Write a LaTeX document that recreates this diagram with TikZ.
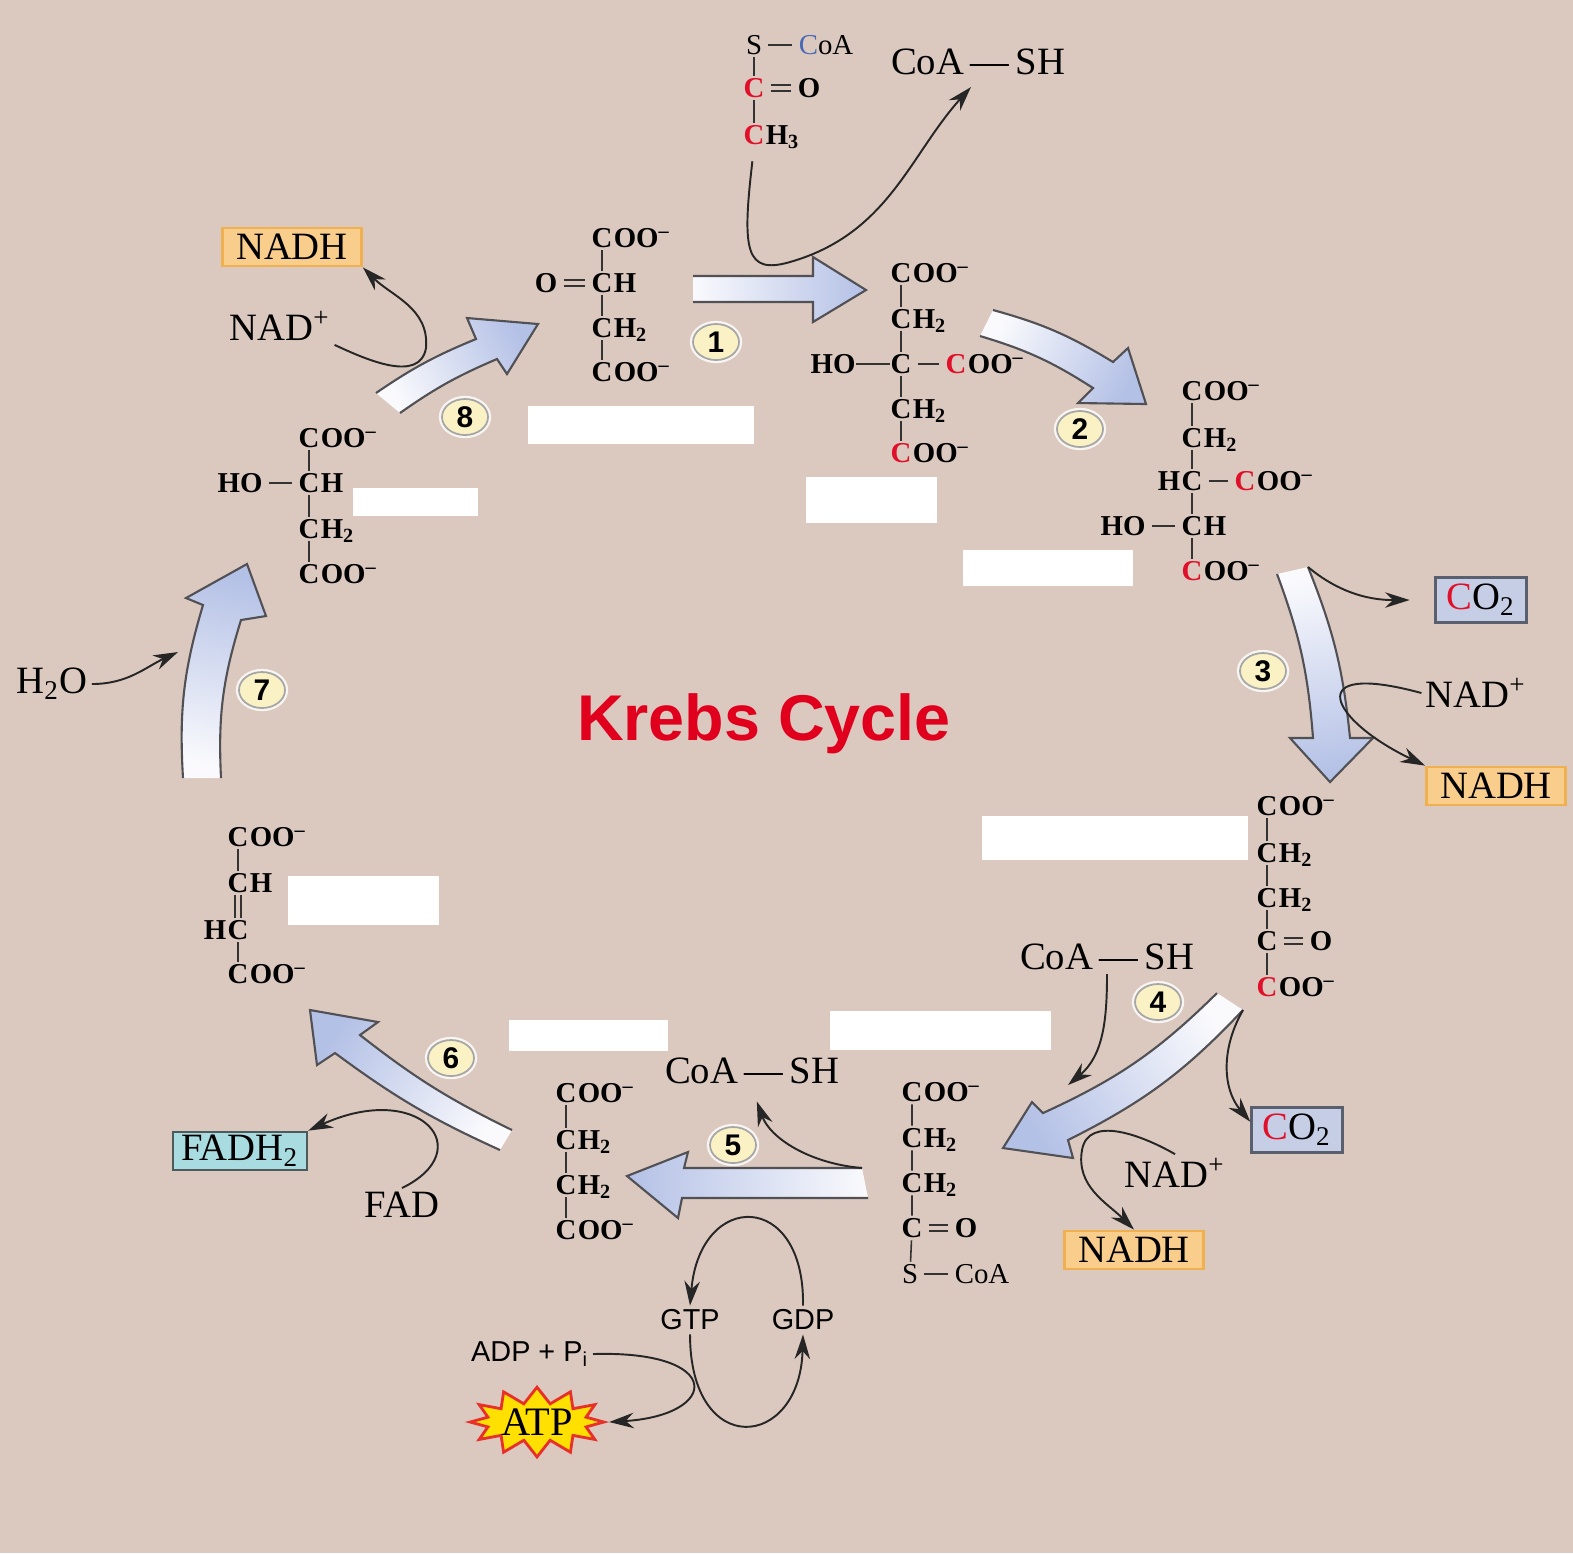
\documentclass[tikz,border=0pt]{standalone}
\usepackage{fontspec}
\setmainfont{Liberation Serif}
\setsansfont{Liberation Sans}
\usetikzlibrary{arrows.meta,shapes.geometric,shapes.symbols}

\definecolor{bgtan}{HTML}{DBC9BF}
\definecolor{arrowblue}{HTML}{B4C1E6}
\definecolor{arrowwhite}{HTML}{FAFAFD}
\definecolor{arrowedge}{HTML}{505055}
\definecolor{nadhfill}{HTML}{F9CD8C}
\definecolor{nadhedge}{HTML}{F0B050}
\definecolor{cotwofill}{HTML}{C6CEE6}
\definecolor{cotwoedge}{HTML}{5A5F6E}
\definecolor{fadfill}{HTML}{A8DCE1}
\definecolor{fadedge}{HTML}{4C5C5E}
\definecolor{numfill}{HTML}{FAF2C4}
\definecolor{carbred}{HTML}{E0102A}
\definecolor{coablue}{HTML}{4A6AB8}
\definecolor{krebsred}{HTML}{E0001E}
\definecolor{atpyellow}{HTML}{FFE000}
\definecolor{atpred}{HTML}{E8302A}

\newcommand\chemsize{\fontsize{8.2}{9.5}\selectfont}
% fat cycle arrow: shading angle, outline path
\newcommand\cyclearrow[2]{%
  \shade[top color=arrowblue, bottom color=arrowwhite, shading angle=#1] #2 -- cycle;
  \draw[arrowedge, line width=0.6pt] #2;}

\tikzset{
  atom/.style={font=\chemsize\bfseries, inner xsep=0pt, inner ysep=0.5pt,
    text height=5.6pt, text depth=0pt},
  atomlight/.style={atom, font=\chemsize},
  rest/.style={atom},
  coo/.style={label distance=-0.3pt, label={[rest]east:OO\textsuperscript{–}}},
  chtwo/.style={label distance=-0.3pt, label={[rest]east:H\textsubscript{2}}},
  chone/.style={label distance=-0.3pt, label={[rest]east:H}},
  hcone/.style={label distance=-0.3pt, label={[rest]west:H}},
  bond/.style={draw=black!80, line width=0.45pt},
  hbond/.style={bond, shorten <=1.6pt, shorten >=1.6pt},
  dbond/.style={hbond, double=bgtan, double distance=1.2pt},
  vdbond/.style={bond, double=bgtan, double distance=1.2pt},
  link/.style={draw=black!85, line width=0.55pt, -{Stealth[length=7pt,width=4.4pt]}},
  cofactor/.style={font=\fontsize{11}{13}\selectfont, inner sep=1pt},
  nadhbox/.style={cofactor, draw=nadhedge, fill=nadhfill, line width=0.8pt,
    minimum width=1.39cm, minimum height=0.38cm},
  cotwobox/.style={cofactor, draw=cotwoedge, fill=cotwofill, line width=0.7pt,
    minimum width=0.91cm, minimum height=0.45cm},
  fadbox/.style={cofactor, draw=fadedge, fill=fadfill, line width=0.7pt,
    minimum width=1.34cm, minimum height=0.37cm},
  stepnum/.style={ellipse, draw=black!35, fill=numfill, line width=0.5pt,
    preaction={draw=white!80!bgtan, line width=1.8pt},
    minimum width=0.46cm, minimum height=0.36cm, inner sep=0pt,
    font=\sffamily\bfseries\fontsize{8.5}{8.5}\selectfont},
  nucleo/.style={font=\sffamily\fontsize{8.2}{10}\selectfont, inner sep=1pt},
  atpburst/.style={starburst, starburst points=12, starburst point height=0.16cm,
    random starburst=0, fill=atpyellow, draw=atpred, line width=0.8pt,
    minimum width=1.25cm, minimum height=0.52cm, inner sep=0pt,
    font=\fontsize{11.5}{12}\selectfont},
  krebstitle/.style={font=\sffamily\bfseries\fontsize{18.4}{20}\selectfont, text=krebsred}
}

\begin{document}
\begin{tikzpicture}[x=0.1mm, y=-0.1mm]
  \useasboundingbox (0,0) rectangle (1573,1553);
  \fill[bgtan] (0,0) rectangle (1573,1553);

  % blank name boxes
  \fill[white] (528,406) rectangle (754,444);
  \fill[white] (806,477) rectangle (937,523);
  \fill[white] (963,550) rectangle (1133,586);
  \fill[white] (982,816) rectangle (1248,860);
  \fill[white] (830,1011) rectangle (1051,1050);
  \fill[white] (509,1020) rectangle (668,1051);
  \fill[white] (288,876) rectangle (439,925);
  \fill[white] (353,488) rectangle (478,516);

  % cycle arrows
  \cyclearrow{-90}{(693,276) -- (813,276) -- (813,257) -- (866,290) -- (813,322) -- (813,302) -- (693,302)}
  \cyclearrow{-117}{(993,310) to[bend left=8] (1113,362) -- (1128,348) -- (1146,404) -- (1078,403) -- (1093,388) to[bend right=8] (980,336)}
  \cyclearrow{-170}{(1277,574) to[bend left=8] (1313,738) -- (1290,738) -- (1330,782) -- (1373,738) -- (1350,738) to[bend right=8] (1308,567)}
  \cyclearrow{123}{(1217,993) to[bend left=10] (1043,1113) -- (1032,1102) -- (1003,1148) -- (1073,1158) -- (1068,1140) to[bend right=10] (1243,1010)}
  \cyclearrow{90}{(862,1168) -- (684,1168) -- (688,1152) -- (627,1176) -- (678,1218) -- (682,1198) -- (868,1198)}
  \cyclearrow{56}{(512,1130) to[bend left=6] (360,1035) -- (378,1022) -- (310,1010) -- (317,1065) -- (335,1053) to[bend right=6] (500,1150)}
  \cyclearrow{-12}{(183,778) to[bend left=10] (203,605) -- (186,598) -- (247,564) -- (266,616) -- (241,620) to[bend right=10] (221,778)}
  \cyclearrow{-62}{(376,393) to[bend left=6] (476,339) -- (467,318) -- (538,324) -- (507,374) -- (497,359) to[bend right=6] (400,413)}

  % acetyl-CoA
  \node[atomlight] (ac1) at (754,45) {S};
  \node[atomlight] (accoa) at (826,45) {\textcolor{coablue}{C}oA};
  \node[atom] (ac2) at (754,88) {\textcolor{carbred}{C}};
  \node[atom] (aco) at (809,88) {O};
  \node[atom, label distance=-0.3pt, label={[rest]east:H\textsubscript{3}}] (ac3) at (754,135) {\textcolor{carbred}{C}};
  \draw[bond] (ac1) -- (ac2) -- (ac3);
  \draw[hbond] (ac1) -- (accoa);
  \draw[dbond] (ac2) -- (aco);

  % oxaloacetate
  \node[atom, coo] (oa1) at (602,238) {C};
  \node[atom, chone] (oa2) at (602,283) {C};
  \node[atom] (oao) at (546,283) {O};
  \node[atom, chtwo] (oa3) at (602,328) {C};
  \node[atom, coo] (oa4) at (602,372) {C};
  \draw[bond] (oa1) -- (oa2) -- (oa3) -- (oa4);
  \draw[dbond] (oao) -- (oa2);

  % citrate
  \node[atom, coo] (ci1) at (901,273) {C};
  \node[atom, chtwo] (ci2) at (901,319) {C};
  \node[atom] (ci3) at (901,364) {C};
  \node[atom] (ciho) at (833,364) {HO};
  \node[atom, coo] (cir) at (956,364) {\textcolor{carbred}{C}};
  \node[atom, chtwo] (ci4) at (901,409) {C};
  \node[atom, coo] (ci5) at (901,453) {\textcolor{carbred}{C}};
  \draw[bond] (ci1) -- (ci2) -- (ci3) -- (ci4) -- (ci5);
  \draw[hbond] (ciho) -- (ci3) -- (cir);

  % isocitrate
  \node[atom, coo] (ic1) at (1192,391) {C};
  \node[atom, chtwo] (ic2) at (1192,438) {C};
  \node[atom, hcone] (ic3) at (1192,481) {C};
  \node[atom, coo] (icr) at (1245,481) {\textcolor{carbred}{C}};
  \node[atom, chone] (ic4) at (1192,526) {C};
  \node[atom] (icho) at (1123,526) {HO};
  \node[atom, coo] (ic5) at (1192,571) {\textcolor{carbred}{C}};
  \draw[bond] (ic1) -- (ic2) -- (ic3) -- (ic4) -- (ic5);
  \draw[hbond] (ic3) -- (icr);
  \draw[hbond] (icho) -- (ic4);

  % alpha-ketoglutarate
  \node[atom, coo] (kg1) at (1267,806) {C};
  \node[atom, chtwo] (kg2) at (1267,853) {C};
  \node[atom, chtwo] (kg3) at (1267,898) {C};
  \node[atom] (kg4) at (1267,941) {C};
  \node[atom] (kgo) at (1321,941) {O};
  \node[atom, coo] (kg5) at (1267,987) {\textcolor{carbred}{C}};
  \draw[bond] (kg1) -- (kg2) -- (kg3) -- (kg4) -- (kg5);
  \draw[dbond] (kg4) -- (kgo);

  % succinyl-CoA
  \node[atom, coo] (sc1) at (912,1092) {C};
  \node[atom, chtwo] (sc2) at (912,1138) {C};
  \node[atom, chtwo] (sc3) at (912,1183) {C};
  \node[atom] (sc4) at (912,1228) {C};
  \node[atom] (sco) at (966,1228) {O};
  \node[atomlight] (sc5) at (910,1274) {S};
  \node[atomlight] (sccoa) at (982,1274) {CoA};
  \draw[bond] (sc1) -- (sc2) -- (sc3) -- (sc4) -- (sc5);
  \draw[dbond] (sc4) -- (sco);
  \draw[hbond] (sc5) -- (sccoa);

  % succinate
  \node[atom, coo] (sn1) at (566,1093) {C};
  \node[atom, chtwo] (sn2) at (566,1140) {C};
  \node[atom, chtwo] (sn3) at (566,1185) {C};
  \node[atom, coo] (sn4) at (566,1230) {C};
  \draw[bond] (sn1) -- (sn2) -- (sn3) -- (sn4);

  % fumarate
  \node[atom, coo] (fu1) at (238,837) {C};
  \node[atom, chone] (fu2) at (238,883) {C};
  \node[atom, hcone] (fu3) at (238,930) {C};
  \node[atom, coo] (fu4) at (238,974) {C};
  \draw[bond] (fu1) -- (fu2);
  \draw[vdbond] (fu2) -- (fu3);
  \draw[bond] (fu3) -- (fu4);

  % malate
  \node[atom, coo] (ma1) at (309,438) {C};
  \node[atom, chone] (ma2) at (309,483) {C};
  \node[atom] (maho) at (240,483) {HO};
  \node[atom, chtwo] (ma3) at (309,529) {C};
  \node[atom, coo] (ma4) at (309,574) {C};
  \draw[bond] (ma1) -- (ma2) -- (ma3) -- (ma4);
  \draw[hbond] (maho) -- (ma2);

  % cofactors
  \node[cofactor] (coash1) at (978,62) {CoA\,—\,SH};
  \node[nadhbox] (nadh8) at (292,247) {NADH};
  \node[cofactor] (nad8) at (280,326) {NAD\textsuperscript{+}};
  \node[cotwobox] (co2a) at (1481,600) {\textcolor{carbred}{C}O\textsubscript{2}};
  \node[cofactor] (nad3) at (1476,693) {NAD\textsuperscript{+}};
  \node[nadhbox] (nadh3) at (1496,786) {NADH};
  \node[cofactor] (coash4) at (1107,957) {CoA\,—\,SH};
  \node[cotwobox] (co2b) at (1297,1130) {\textcolor{carbred}{C}O\textsubscript{2}};
  \node[cofactor] (nad4) at (1175,1173) {NAD\textsuperscript{+}};
  \node[nadhbox] (nadh4) at (1134,1250) {NADH};
  \node[cofactor] (coash5) at (752,1071) {CoA\,—\,SH};
  \node[nucleo] (gtp) at (690,1320) {GTP};
  \node[nucleo] (gdp) at (803,1320) {GDP};
  \node[nucleo] (adp) at (530,1354) {ADP + P\textsubscript{i}};
  \node[atpburst] (atp) at (537,1422) {ATP};
  \node[fadbox] (fadh) at (240,1151) {FADH\textsubscript{2}};
  \node[cofactor] (fad) at (402,1205) {FAD};
  \node[cofactor] (h2o) at (52,684) {H\textsubscript{2}O};
  \node[krebstitle] (krebs) at (764,724) {Krebs Cycle};

  % step numbers
  \node[stepnum] (s1) at (716,342) {1};
  \node[stepnum] (s2) at (1080,429) {2};
  \node[stepnum] (s3) at (1263,671) {3};
  \node[stepnum] (s4) at (1158,1002) {4};
  \node[stepnum] (s5) at (733,1145) {5};
  \node[stepnum] (s6) at (451,1058) {6};
  \node[stepnum] (s7) at (262,690) {7};
  \node[stepnum] (s8) at (465,417) {8};

  % side reactions
  \coordinate (acbend) at (790,262);
  \coordinate (a3r) at (1308,567);
  \coordinate (c4) at (1068,1085);
  \coordinate (a4o) at (1243,1010);
  \coordinate (t4) at (1082,1150);
  \coordinate (a5u) at (862,1168);
  \coordinate (c7) at (178,652);
  \coordinate (t8) at (426,348);
  \draw[link, shorten <=4pt, shorten >=3pt] (ac3.south) .. controls (742,250) and (745,275) .. (acbend) to[out=16, in=-132] (coash1.south);
  \draw[link, shorten >=7pt] (a3r) to[out=-40, in=180] (co2a.west);
  \draw[link] (nad3.west) .. controls (1300,660) and (1330,720) .. (nadh3.north west);
  \draw[link] (coash4.south) to[out=-90, in=40] (c4);
  \draw[link] (a4o) to[out=-120, in=130] (co2b.170);
  \draw[link] (nad4.north) to[out=150, in=80] (t4) to[out=-100, in=135] (nadh4.north);
  \draw[link, shorten >=4pt] (a5u) to[out=175, in=-70] (coash5.south);
  \draw[link] (gdp.north) .. controls (805,1190) and (700,1190) .. (gtp.north);
  \draw[link] (gtp.south) .. controls (690,1460) and (800,1450) .. (gdp.south);
  \draw[link] (adp.east) .. controls (725,1350) and (720,1415) .. (atp.east);
  \draw[link] (fad.north) .. controls (480,1150) and (420,1080) .. (fadh.north east);
  \draw[link] (h2o.east) to[out=0, in=205] (c7);
  \draw[link] (nad8.south east) to[out=-25, in=-100] (t8) to[out=85, in=-45] (nadh8.south east);
\end{tikzpicture}
\end{document}
